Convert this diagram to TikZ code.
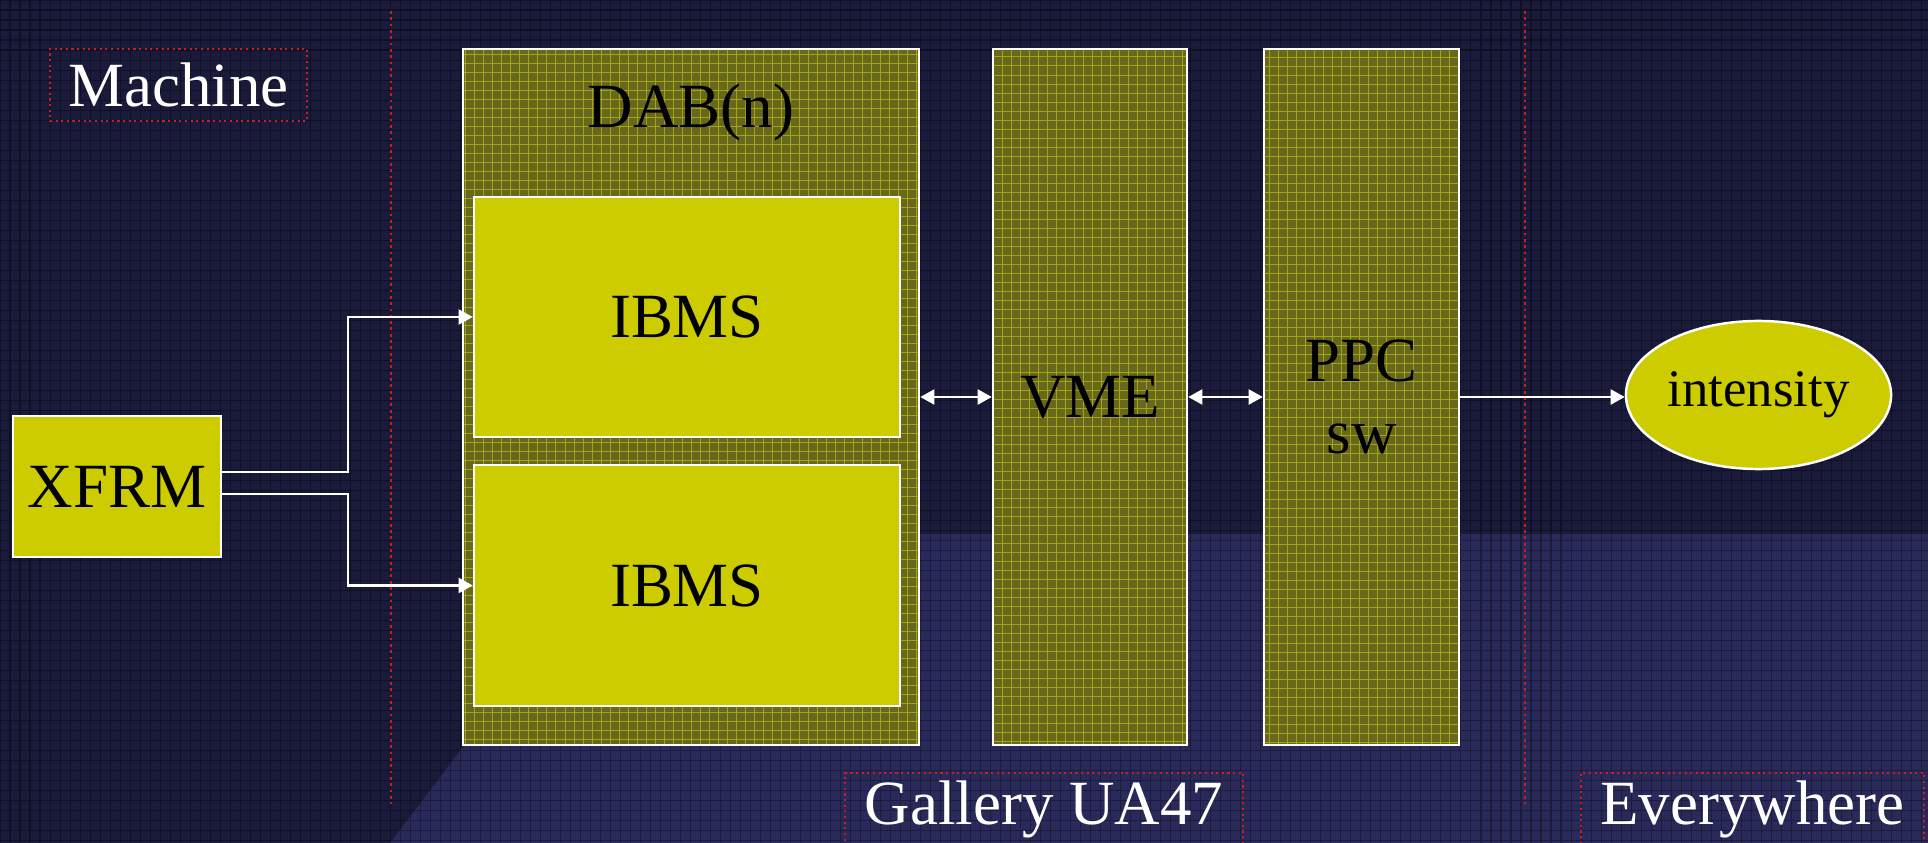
\documentclass[tikz,border=0pt]{standalone}
\usepackage{fontspec}
\setmainfont{Liberation Serif}
\usepackage{tikz}
\usepackage{xcolor}
\usetikzlibrary{shapes.geometric, arrows.meta, positioning, calc}
\definecolor{cNavy}{RGB}{26,26,58}
\definecolor{cNavyLight}{RGB}{42,42,90}
\definecolor{cYellow}{RGB}{204,204,0}
\definecolor{cOlive}{RGB}{104,104,28}
\definecolor{cMesh}{RGB}{214,214,20}
\definecolor{cRedDot}{RGB}{200,30,30}
\tikzset{
	solidbox/.style={rectangle, draw=white, line width=0.7pt, fill=cYellow, text=black, inner sep=0pt, align=center},
	meshbox/.style ={rectangle, draw=white, line width=0.7pt, fill=cOlive, text=black, inner sep=0pt, align=center,
		path picture={\draw[cMesh, line width=0.25pt, opacity=0.55] (path picture bounding box.south west) grid[step=0.09cm] (path picture bounding box.north east);}},
	oval/.style    ={ellipse, draw=white, line width=0.7pt, fill=cYellow, text=black, inner sep=0pt},
	tagbox/.style  ={rectangle, draw=cRedDot, densely dotted, line width=0.6pt, text=white, inner sep=0pt},
	zone/.style    ={cRedDot, densely dotted, line width=0.8pt},
	wire/.style    ={-{Triangle[length=4pt, width=4.3pt]}, white, line width=0.6pt},
	link/.style    ={{Triangle[length=4pt, width=4.3pt]}-{Triangle[length=4pt, width=4.3pt]}, white, line width=0.6pt},
}

\begin{document}
\begin{tikzpicture}[x=0.01cm, y=-0.01cm, font=\fontsize{17.9}{20.7}\selectfont]
	\useasboundingbox (0,0) rectangle (1928,843);
	\clip (0,0) rectangle (1928,843);
	% backdrop
	\fill[cNavy] (0,0) rectangle (1928,843);
	\fill[cNavyLight] (390,843) -- (625,534) -- (1928,534) -- (1928,843) -- cycle;
	\draw[black, opacity=0.35, line width=0.3pt] (0,843) grid[step=0.1cm] (1928,0);
	\draw[zone] (391,11) -- (391,804);
	\draw[zone] (1525,11) -- (1525,804);

	\node[tagbox, minimum width=2.57cm, minimum height=0.72cm] (machine) at (178.5,85) {Machine};
	\node[tagbox, minimum width=3.98cm, minimum height=0.72cm] (gallery) at (1044,809) {Gallery UA47};
	\node[tagbox, minimum width=3.43cm, minimum height=0.72cm] (everywhere) at (1752.5,809) {Everywhere};

	\node[meshbox, minimum width=4.56cm, minimum height=6.96cm] (dab) at (691,397) {};
	\node (dablabel) at (691,112) {DAB(n)};
	\node[solidbox, minimum width=4.26cm, minimum height=2.40cm] (ibmsA) at (687,317) {IBMS};
	\node[solidbox, minimum width=4.26cm, minimum height=2.41cm] (ibmsB) at (687,585.5) {IBMS};
	\node[meshbox, minimum width=1.94cm, minimum height=6.96cm] (vme) at (1090,397) {VME};
	\node[meshbox, minimum width=1.95cm, minimum height=6.96cm] (ppc) at (1361.5,397) {PPC\\sw};
	\node[solidbox, minimum width=2.08cm, minimum height=1.41cm] (xfrm) at (117,486.5) {XFRM};
	\node[oval, minimum width=2.65cm, minimum height=1.48cm, font=\fontsize{15}{18}\selectfont] (intensity) at (1758.5,395) {intensity};

	\draw[wire] ([yshift=1.45mm]xfrm.east) -- ++(126,0) |- (ibmsA.west);
	\draw[wire] ([yshift=-0.75mm]xfrm.east) -- ++(126,0) |- (ibmsB.west);
	\draw[link] (dab.east) -- (vme.west);
	\draw[link] (vme.east) -- (ppc.west);
	\draw[wire] (ppc.east) -- (ppc.east -| intensity.west);
\end{tikzpicture}
\end{document}
